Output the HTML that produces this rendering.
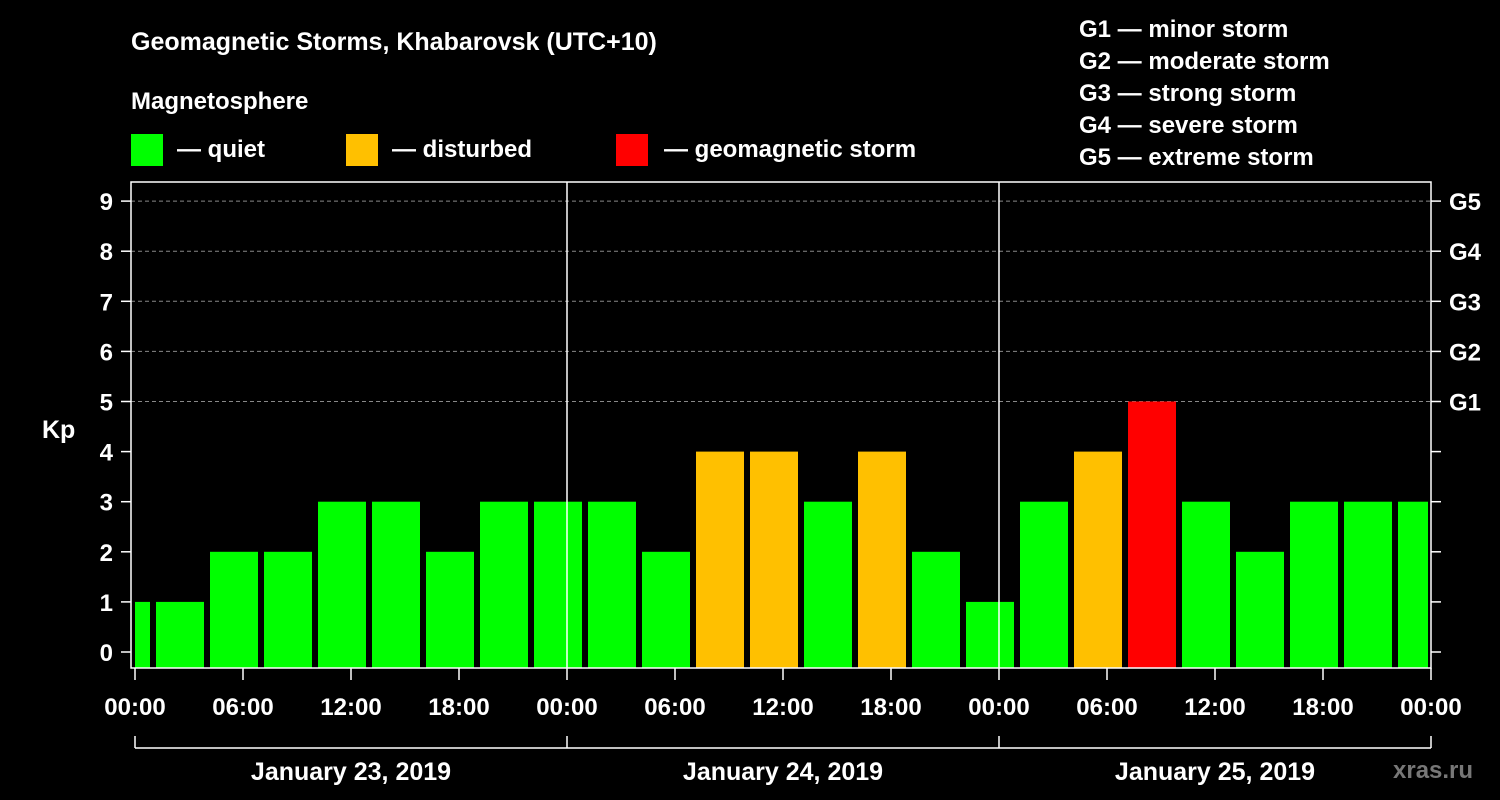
<!DOCTYPE html>
<html><head><meta charset="utf-8"><style>
html,body{margin:0;padding:0;background:#000;}
svg{display:block;font-family:"Liberation Sans",Arial,sans-serif;font-weight:bold;}
</style></head><body>
<svg id="chart" width="1500" height="800" viewBox="0 0 1500 800">
<rect width="1500" height="800" fill="#000"/>
<text x="131" y="50" fill="#fff" font-size="25">Geomagnetic Storms, Khabarovsk (UTC+10)</text>
<text x="131" y="109" fill="#fff" font-size="24">Magnetosphere</text>
<g><rect x="131" y="134" width="32" height="32" fill="#00ff00"/><text x="177" y="157" fill="#fff" font-size="24">— quiet</text></g>
<g><rect x="346" y="134" width="32" height="32" fill="#ffc000"/><text x="392" y="157" fill="#fff" font-size="24">— disturbed</text></g>
<g><rect x="616" y="134" width="32" height="32" fill="#ff0000"/><text x="664" y="157" fill="#fff" font-size="24">— geomagnetic storm</text></g>
<g fill="#fff" font-size="24">
<text x="1079" y="37">G1 — minor storm</text>
<text x="1079" y="69">G2 — moderate storm</text>
<text x="1079" y="101">G3 — strong storm</text>
<text x="1079" y="133">G4 — severe storm</text>
<text x="1079" y="165">G5 — extreme storm</text>
</g>
<text x="42" y="438" fill="#fff" font-size="25">Kp</text>
<g id="plot"></g>
<text x="1393" y="778" fill="#777" font-size="24">xras.ru</text>
</svg>
<script>
const kpValues = [1,1,2,2,3,3,2,3,3,3,2,4,4,3,4,2,1,3,4,5,3,2,3,3,3];
const binStartHours = [-2,1,4,7,10,13,16,19,22,25,28,31,34,37,40,43,46,49,52,55,58,61,64,67,70];
const yTicks = [0,1,2,3,4,5,6,7,8,9];
const gLabels = ["G1","G2","G3","G4","G5"];
const xTickLabels = ["00:00","06:00","12:00","18:00","00:00","06:00","12:00","18:00","00:00","06:00","12:00","18:00","00:00"];
const dayLabels = ["January 23, 2019","January 24, 2019","January 25, 2019"];

const NS="http://www.w3.org/2000/svg";
const plot=document.getElementById('plot');
const X0=135, X1=1431, TOP=182, BOT=668, TOTALH=72;
const x=h=>X0+(h/TOTALH)*(X1-X0);
const y=v=>652-v*50.1;
function mk(tag,attrs,parent){const e=document.createElementNS(NS,tag);for(const k in attrs)e.setAttribute(k,attrs[k]);(parent||plot).appendChild(e);return e;}

// grid
yTicks.forEach(v=>{
  if(v>=5){const g=mk('line',{x1:131,x2:X1,y1:y(v),y2:y(v),stroke:'#888','stroke-dasharray':'4,3','stroke-width':1});
  
  }
  const t=mk('line',{x1:121,x2:131,y1:y(v),y2:y(v),stroke:'#fff','stroke-width':1.5});
  
  
  const l=mk('text',{x:113,y:y(v)+9,fill:'#fff','font-size':24,'text-anchor':'end'});
  l.textContent=v;
  
  
  const rt=mk('line',{x1:X1,x2:1441,y1:y(v),y2:y(v),stroke:'#fff','stroke-width':1.5});
  
  
});
gLabels.forEach((g,i)=>{
  const l=mk('text',{x:1449,y:y(5+i)+9,fill:'#fff','font-size':24});
  l.textContent=g;
  
  
});
// bars
kpValues.forEach((v,i)=>{
  let a=x(binStartHours[i])+3, b=x(binStartHours[i]+3)-3;
  a=Math.max(a,X0); b=Math.min(b,X1-3);
  const c=v>=5?'#ff0000':(v>=4?'#ffc000':'#00ff00');
  const r=mk('rect',{x:a,y:y(v),width:b-a,height:BOT-y(v),fill:c});
  
  
});
// frame
const fr=mk('rect',{x:131,y:TOP,width:X1-131,height:BOT-TOP,fill:'none',stroke:'#fff','stroke-width':1.5});


[24,48].forEach(h=>{
  const d=mk('line',{x1:x(h),x2:x(h),y1:TOP,y2:BOT,stroke:'#fff','stroke-width':1.5});
  
  
});
// x ticks
xTickLabels.forEach((s,i)=>{
  const h=i*6;
  const t=mk('line',{x1:x(h),x2:x(h),y1:BOT,y2:BOT+12,stroke:'#fff','stroke-width':1.5});
  
  
  const l=mk('text',{x:x(h),y:715,fill:'#fff','font-size':24,'text-anchor':'middle'});
  l.textContent=s;
  
  
});
const br=mk('line',{x1:X0,x2:X1,y1:748,y2:748,stroke:'#fff','stroke-width':1.5});


[0,24,48,72].forEach(h=>{
  const t=mk('line',{x1:x(h),x2:x(h),y1:736,y2:748,stroke:'#fff','stroke-width':1.5});
  
  
});
dayLabels.forEach((d,i)=>{
  const l=mk('text',{x:x(i*24+12),y:780,fill:'#fff','font-size':25,'text-anchor':'middle'});
  l.textContent=d;
  
  
});
</script>
</body></html>
